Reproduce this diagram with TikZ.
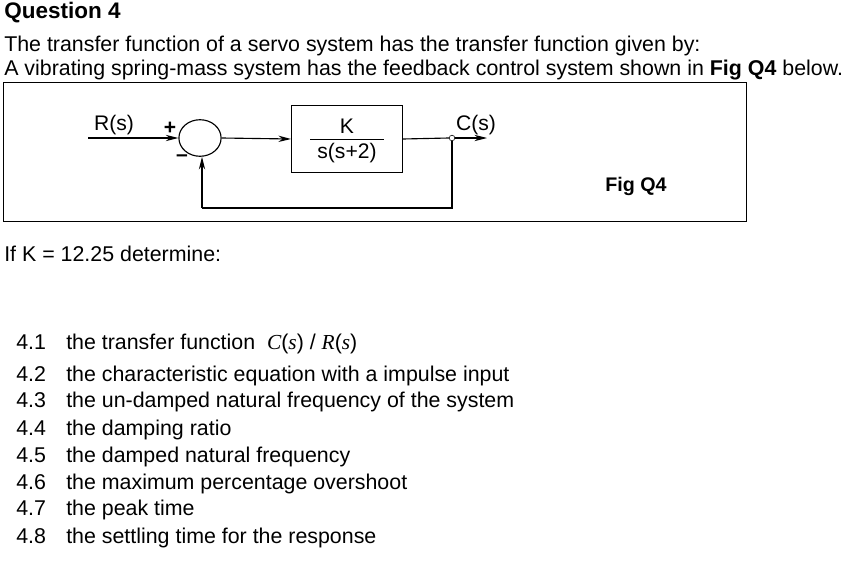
\documentclass[tikz,border=0pt]{standalone}
\usepackage{fontspec}
\setmainfont{Liberation Sans}
\newfontfamily\timesf{Liberation Serif}
\usetikzlibrary{arrows.meta,shapes.geometric}
\tikzset{
  txt/.style={anchor=base west, inner sep=0pt, font=\fontsize{15.2}{17}\selectfont},
  lbl/.style={inner sep=0pt, font=\fontsize{15}{17}\selectfont},
  sig/.style={draw=black, line width=0.8pt, -{Stealth[length=9pt,width=4.5pt]}},
  wire/.style={draw=black, line width=0.8pt}
}
\begin{document}
\begin{tikzpicture}[x=0.025cm, y=-0.025cm]
  \useasboundingbox (0,0) rectangle (848,565);
  % heading and question text
  \node[txt, font=\fontsize{16}{18}\bfseries] (title) at (4,19) {Question 4};
  \node[txt] (line1) at (4,52) {The transfer function of a servo system has the transfer function given by:};
  \node[txt] (line2) at (4,76) {A vibrating spring-mass system has the feedback control system shown in \textbf{Fig Q4} below.};
  % frame
  \draw[line width=0.6pt] (3,82) rectangle (746,221);
  % block diagram
  \node (sum) [draw, ellipse, line width=0.8pt, minimum width=30pt, minimum height=26pt, inner sep=0pt] at (200,138) {};
  \node (gain) [draw, line width=0.6pt, minimum width=79pt, minimum height=48pt] at (347,139) {};
  \node[lbl] (num) at (347,126) {K};
  \node[lbl] (den) at (347,153) {s(s+2)};
  \draw[line width=0.6pt] (310,139) -- (384,139);
  \coordinate (in) at (88,138);
  \node (tap) [draw, circle, fill=white, inner sep=0pt, minimum size=4pt] at (452,138) {};
  \coordinate (out) at (487,138);
  \coordinate (fbR) at (452,208);
  \coordinate (fbL) at (202,208);
  \draw[sig] (in) -- (sum.west);
  \draw[sig] (sum.east) -- (gain.west);
  \draw[wire] (gain.east) -- (tap.west);
  \draw[sig] (tap.east) -- (out);
  \draw[wire] (tap.south) -- (fbR) -- (fbL);
  \draw[sig] (fbL) -- (sum.south -| fbL);
  \node[lbl] (rlab) at (114,125) {R(s)};
  \node[lbl] (plus) at (170,128) {\textbf{+}};
  \node[lbl] (minus) at (182,158) {\textbf{--}};
  \node[lbl] (clab) at (476,125) {C(s)};
  \node[lbl, font=\fontsize{14}{16}\bfseries] (fig) at (636,186) {Fig Q4};
  % questions
  \node[txt] (given) at (4,261) {If K = 12.25 determine:};
  \foreach \n/\y/\t in {4.1/349/{the transfer function \ {\timesf\itshape C}({\timesf\itshape s}) / {\timesf\itshape R}({\timesf\itshape s})},
      4.2/381/{the characteristic equation with a impulse input},
      4.3/407/{the un-damped natural frequency of the system},
      4.4/435/{the damping ratio},
      4.5/462/{the damped natural frequency},
      4.6/489/{the maximum percentage overshoot},
      4.7/515/{the peak time},
      4.8/543/{the settling time for the response}} {
    \node[txt] (num\n) at (16,\y) {\n};
    \node[txt] (item\n) at (66,\y) {\t};
  }
\end{tikzpicture}
\end{document}
